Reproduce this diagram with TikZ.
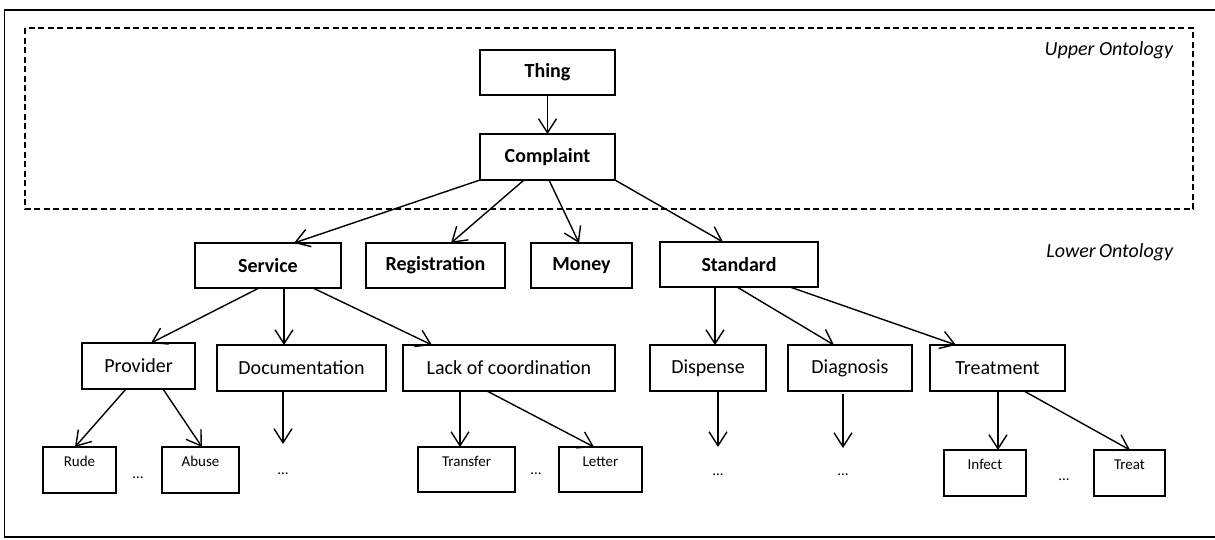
\documentclass[tikz,border=0pt]{standalone}
\usepackage{fontspec}
\setmainfont{Carlito}
\usetikzlibrary{arrows.meta,positioning}

\begin{document}
\begin{tikzpicture}[x=1pt,y=-1pt,every node/.style={outer sep=0pt,inner sep=0pt},
 topbox/.style={draw,line width=1.4pt,minimum height=45pt,font=\fontsize{20}{24}\selectfont\bfseries},
 midbox/.style={draw,line width=1.4pt,minimum height=46pt,font=\fontsize{20}{24}\selectfont},
 leafbox/.style={draw,line width=1.4pt,minimum height=46pt,text height=11pt,text depth=18pt,font=\fontsize{15}{18}\selectfont},
 dots/.style={anchor=base,font=\fontsize{15}{18}\selectfont},
 layer/.style={anchor=east,font=\fontsize{20}{24}\selectfont\itshape},
 arr/.style={line width=1.4pt,-{Straight Barb[length=14pt,width=18pt,line width=1.4pt]}}]

\useasboundingbox (0,0) rectangle (1215,539);
\draw[line width=1.5pt] (1215,10) -- (4.5,10) -- (4.5,537) -- (1215,537);
\draw[line width=1.5pt,dash pattern=on 6pt off 3.5pt] (25,28) rectangle (1193,209);

\node[layer] (upper) at (1173,50) {Upper Ontology};
\node[layer] (lower) at (1173,252) {Lower\,Ontology};

% upper level
\node[topbox,minimum width=135pt] (thing) at (547.5,72.5) {Thing};
\node[topbox,minimum width=135pt,minimum height=46pt] (cpl) at (547.5,157) {Complaint};

% categories
\node[topbox,minimum width=146pt] (srv) at (268,265.5) {Service};
\node[topbox,minimum width=139pt] (reg) at (435.5,265.5) {Registration};
\node[topbox,minimum width=101pt] (mon) at (581.5,265.5) {Money};
\node[topbox,minimum width=158pt] (std) at (739,264.5) {Standard};

% sub categories
\node[midbox,minimum width=113pt] (prov) at (138.5,366) {Provider};
\node[midbox,minimum width=169pt] (doc) at (301.5,368) {Documentation};
\node[midbox,minimum width=212pt] (lack) at (509,368) {Lack of coordination};
\node[midbox,minimum width=116pt] (disp) at (708,368) {Dispense};
\node[midbox,minimum width=124pt] (diag) at (850,368) {Diagnosis};
\node[midbox,minimum width=135pt] (trt) at (997.5,368) {Treatment};

% leaves
\node[leafbox,minimum width=73pt] (rude) at (79.5,470) {Rude};
\node[leafbox,minimum width=77pt] (abuse) at (200.5,470) {Abuse};
\node[leafbox,minimum width=97pt,minimum height=45pt] (trans) at (466.5,469.5) {Transfer};
\node[leafbox,minimum width=83pt,minimum height=45pt] (letter) at (600.5,469.5) {Letter};
\node[leafbox,minimum width=82pt] (infect) at (985,473) {Infect};
\node[leafbox,minimum width=71pt] (treatb) at (1129.5,473) {Treat};

\node[dots] (d1) at (283,474) {...};
\node[dots] (d2) at (138,478) {...};
\node[dots] (d3) at (536,474) {...};
\node[dots] (d4) at (718,475) {...};
\node[dots] (d5) at (843,475) {...};
\node[dots] (d6) at (1064,480) {...};

\draw[arr] (thing.south) -- (cpl.north);

\draw[arr] (cpl.south west) -- ([xshift=26pt]srv.north);
\draw[arr] ([xshift=-23.5pt]cpl.south) -- ([xshift=15.5pt]reg.north);
\draw[arr] ([xshift=1.5pt]cpl.south) -- ([xshift=-2.5pt]mon.north);
\draw[arr] (cpl.south east) -- ([xshift=-16pt]std.north);

\draw[arr] ([xshift=-9pt]srv.south) -- ([xshift=12.5pt]prov.north);
\draw[arr] ([xshift=16pt]srv.south) -- ([xshift=-17.5pt]doc.north);
\draw[arr] ([xshift=45pt]srv.south) -- ([xshift=-77pt]lack.north);

\draw[arr] ([xshift=-24pt]std.south) -- ([xshift=7pt]disp.north);
\draw[arr] ([xshift=-2pt]std.south) -- ([xshift=-16pt]diag.north);
\draw[arr] ([xshift=51pt]std.south) -- ([xshift=-41.5pt]trt.north);

\draw[arr] ([xshift=-12.5pt]prov.south) -- ([xshift=-4.5pt]rude.north);
\draw[arr] ([xshift=24.5pt]prov.south) -- ([xshift=1.5pt]abuse.north);
\draw[arr] ([xshift=-18.5pt]doc.south) -- ([yshift=30pt]d1.base);
\draw[arr] ([xshift=-49pt]lack.south) -- ([xshift=-6.5pt]trans.north);
\draw[arr] ([xshift=-22pt]lack.south) -- ([xshift=-6.5pt]letter.north);
\draw[arr] ([xshift=10pt,yshift=-1pt]disp.south) -- ([yshift=28pt]d4.base);
\draw[arr] ([xshift=-7pt,yshift=-3pt]diag.south) -- ([yshift=27pt]d5.base);
\draw[arr] ([xshift=0.5pt]trt.south) -- ([xshift=13pt]infect.north);
\draw[arr] ([xshift=26.5pt]trt.south) -- ([xshift=0.5pt]treatb.north);

\end{tikzpicture}
\end{document}
